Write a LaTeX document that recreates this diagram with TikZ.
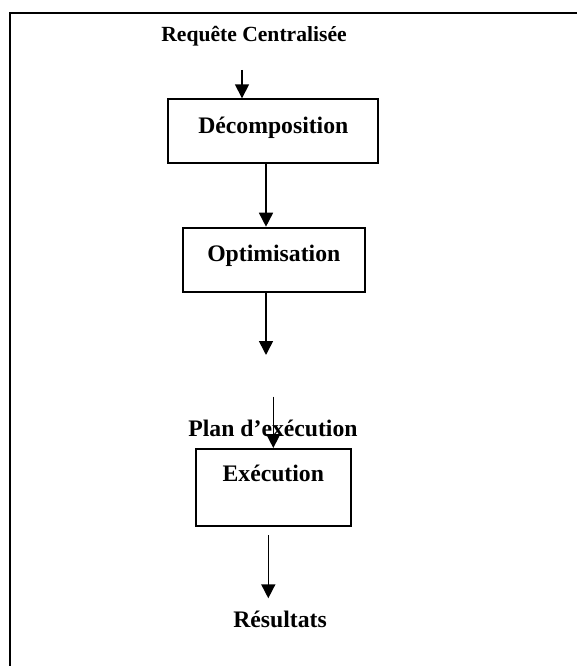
\documentclass[tikz,border=0pt]{standalone}
\usepackage{fontspec}
\setmainfont{Liberation Serif}
\usetikzlibrary{arrows.meta}
\tikzset{
  stage/.style={draw, line width=2pt, inner sep=0pt, anchor=base, align=center,
                font=\fontsize{23.7}{28}\selectfont\bfseries},
  caption/.style={inner sep=0pt, anchor=base, font=\fontsize{23.7}{28}\selectfont\bfseries},
  flow/.style={line width=1.6pt, -{Triangle[length=14pt,width=14pt]}}
}
\begin{document}
\begin{tikzpicture}[x=1pt, y=-1pt]
  \useasboundingbox (0,0) rectangle (577,666);
  % open frame along the top and left
  \draw[line width=2pt] (9.5,666) -- (9.5,13.5) -- (577,13.5);

  % title and result labels
  \node[caption, font=\fontsize{21.6}{26}\selectfont\bfseries] (req) at (254,41.7) {Requête Centralisée};
  \node[caption] (plan) at (273,436.7) {Plan d’exécution};
  \node[caption] (res) at (280,627.7) {Résultats};

  % processing stages
  \node[stage, text width=210pt, text height=34pt, text depth=30pt] (dec) at (273.3,133.3) {Décomposition};
  \node[stage, text width=182.3pt, text height=34pt, text depth=30.3pt] (opt) at (273.8,261.7) {Optimisation};
  \node[stage, text width=154.7pt, text height=32.7pt, text depth=44pt] (exe) at (273.3,481.7) {Exécution};

  % loose arrow ends
  \coordinate (a1) at (242,70);
  \coordinate (a2) at (266,0);
  \coordinate (a3) at (266,355);
  \coordinate (a4) at (273.3,396.7);
  \coordinate (a5s) at (268.3,535);
  \coordinate (a5e) at (268.3,598.3);

  % connectors
  \draw[flow] (a1) -- (a1 |- dec.north);
  \draw[flow] (a2 |- dec.south) -- (a2 |- opt.north);
  \draw[flow] (a2 |- opt.south) -- (a3);
  \draw[flow] (a4) -- (a4 |- exe.north);
  \draw[flow] (a5s) -- (a5e);
\end{tikzpicture}
\end{document}
